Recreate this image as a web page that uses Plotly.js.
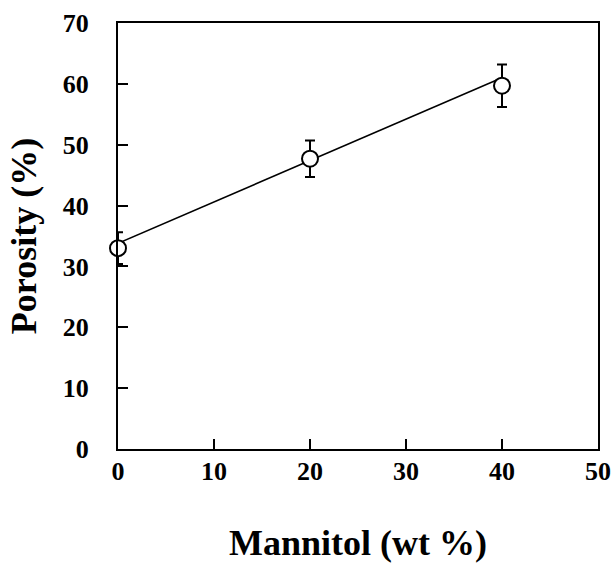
<!DOCTYPE html>
<html>
<head>
<meta charset="utf-8">
<script src="https://cdn.plot.ly/plotly-3.0.1.min.js"></script>
<style>html,body{margin:0;padding:0;background:#fff;}</style>
</head>
<body>
<div id="chart" style="width:616px;height:563px;"></div>
<script>
var mannitol = [0, 20, 40];
var porosity = [33.0, 47.7, 59.7];
var porosityErr = [2.6, 3.0, 3.5];
var fitX = [0, 40];
var fitY = [33.8, 61.0];
var xTicks = [0, 10, 20, 30, 40, 50];
var yTicks = [0, 10, 20, 30, 40, 50, 60, 70];

var fontFam = '"Liberation Serif", "Times New Roman", serif';

var traces = [
  {
    x: fitX, y: fitY, type: 'scatter', mode: 'lines',
    line: {color: '#000', width: 1.5},
    hoverinfo: 'skip', showlegend: false, cliponaxis: false
  },
  {
    x: mannitol, y: porosity, type: 'scatter', mode: 'markers',
    marker: {symbol: 'circle', size: 16, color: '#fff', line: {color: '#000', width: 2}},
    error_y: {type: 'data', array: porosityErr, visible: true, color: '#000', thickness: 2, width: 5},
    showlegend: false, cliponaxis: false
  }
];

var layout = {
  width: 616, height: 563,
  margin: {l: 118, r: 18, t: 23, b: 114},
  paper_bgcolor: '#fff', plot_bgcolor: '#fff',
  font: {family: fontFam, color: '#000'},
  showlegend: false,
  xaxis: {
    range: [0, 50], tickvals: xTicks, ticktext: xTicks.map(String),
    ticks: 'inside', ticklen: 10, tickwidth: 2, tickcolor: '#000',
    showline: true, linecolor: '#000', linewidth: 2, mirror: true,
    showgrid: false, zeroline: false,
    tickfont: {family: fontFam, size: 26, color: '#000', weight: 'bold'},
    ticklabelstandoff: -2,
    title: {text: '<b>Mannitol (wt %)</b>', font: {family: fontFam, size: 36, color: '#000'}, standoff: 46}
  },
  yaxis: {
    range: [0, 70], tickvals: yTicks, ticktext: yTicks.map(String),
    ticks: 'inside', ticklen: 10, tickwidth: 2, tickcolor: '#000',
    showline: true, linecolor: '#000', linewidth: 2, mirror: true,
    showgrid: false, zeroline: false,
    tickfont: {family: fontFam, size: 26, color: '#000', weight: 'bold'},
    ticklabelstandoff: 22,
    title: {text: '<b>Porosity (%)</b>', font: {family: fontFam, size: 36, color: '#000'}, standoff: 15}
  }
};

Plotly.newPlot('chart', traces, layout, {displayModeBar: false, staticPlot: true});
</script>
</body>
</html>
